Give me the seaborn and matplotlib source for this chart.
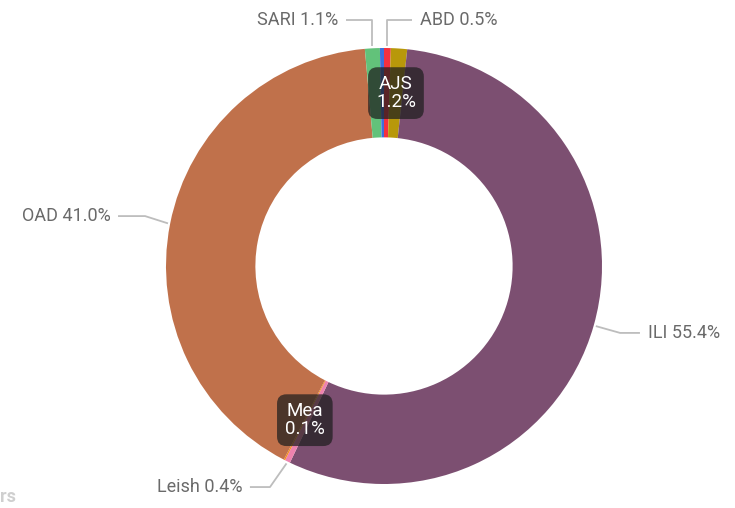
import numpy as np
import matplotlib
matplotlib.use("Agg")
import matplotlib.pyplot as plt
import seaborn as sns

categories = ["ABD", "AJS", "ILI", "Leish", "Mea", "OAD", "SARI", "Other"]
values = [0.5, 1.2, 55.4, 0.4, 0.1, 41.0, 1.1, 0.3]
colors = ["#F5303F", "#B8980A", "#7C4F71", "#EE82AE", "#F58B1C", "#C0714B", "#62C27A", "#3F6FDB"]
outside_labels = ["ABD", "ILI", "Leish", "OAD", "SARI"]
inside_labels = ["AJS", "Mea"]

sns.set_theme(style="white")
plt.rcParams["font.family"] = ["Roboto", "DejaVu Sans"]

W, H = 735, 508
fig = plt.figure(figsize=(W / 100, H / 100), dpi=100)
cx, cy, R = 384, 266, 218
ax = fig.add_axes([(cx - R) / W, (H - cy - R) / H, 2 * R / W, 2 * R / H])

inner = 0.59
wedges, _ = ax.pie(values, colors=colors, startangle=90, counterclock=False,
                   radius=1.0, wedgeprops=dict(width=1 - inner, linewidth=0),
                   frame=False)
ax.set_xlim(-1, 1)
ax.set_ylim(-1, 1)
ax.set_aspect("equal")
ax.axis("off")

total = sum(values)
# leader line geometry per label: (elbow_x, elbow_y, end_x, text alignment)
leader = {
    "ABD": (None, 1.128, 0.128, "left"),
    "SARI": (None, 1.128, -0.174, "right"),
    "ILI": (1.083, -0.307, 1.174, "left"),
    "OAD": (-1.096, 0.229, -1.22, "right"),
    "Leish": (-0.523, -1.014, -0.615, "right"),
}
line_col = "#bdbdbd"
text_col = "#6a6a6a"
for w, cat, v in zip(wedges, categories, values):
    mid = np.deg2rad((w.theta1 + w.theta2) / 2)
    pct = f"{cat} {v / total * 100:.1f}%"
    if cat in outside_labels:
        ex, ey, endx, ha = leader[cat]
        ax0 = np.cos(mid) * 1.01
        ay0 = np.sin(mid) * 1.01
        if ex is None:
            ex = ax0
        ax.plot([ax0, ex, endx], [ay0, ey, ey], color=line_col, lw=1.3,
                clip_on=False, solid_capstyle="butt")
        tx = endx + (0.035 if ha == "left" else -0.035)
        ax.text(tx, ey, pct, ha=ha, va="center", fontsize=13, color=text_col,
                clip_on=False)
    elif cat in inside_labels:
        rm = (1 + inner) / 2
        ax.text(np.cos(mid) * rm, np.sin(mid) * rm, f"{cat}\n{v / total * 100:.1f}%",
                ha="center", va="center", fontsize=13.5, color="white",
                linespacing=1.0,
                bbox=dict(boxstyle="round,pad=0.42,rounding_size=0.5",
                          fc="#1e1e1e", ec="none", alpha=0.72))

fig.text(0.0, 1 - 497 / H, "rs", ha="left", va="center", fontsize=13,
         color="#cfcfcf", fontweight="bold")

fig.savefig("out.png", dpi=100, facecolor="white")
